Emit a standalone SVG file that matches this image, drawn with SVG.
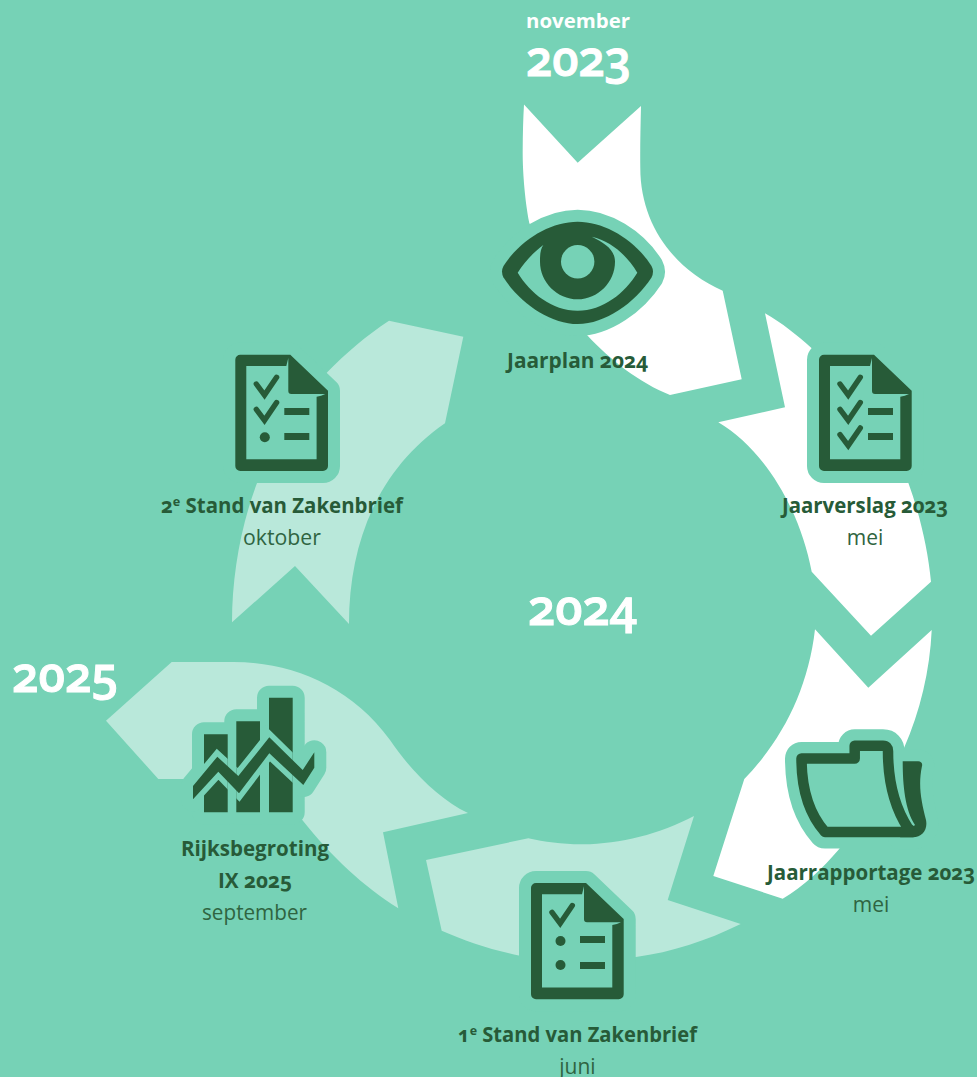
<svg xmlns="http://www.w3.org/2000/svg" xmlns:xlink="http://www.w3.org/1999/xlink" width="977" height="1077" viewBox="0 0 977 1077">
<style>
.bg{fill:#76d2b6}
.w{fill:#fff}
.l{fill:#b9e8da}
.d{fill:#275b38}
.halo{fill:#76d2b6;stroke:#76d2b6;stroke-width:24;stroke-linejoin:round}
.gap{fill:#275b38;stroke:#76d2b6;stroke-width:11;stroke-linejoin:miter;stroke-miterlimit:6}
.chk{fill:none;stroke:#275b38;stroke-width:5.4;stroke-linecap:round;stroke-linejoin:miter}
text{font-family:"Open Sans","Noto Sans","Liberation Sans",sans-serif;font-feature-settings:"onum" 1;font-variant-numeric:oldstyle-nums}
.b{font-size:21px;font-weight:700;fill:#275b38;text-anchor:middle}
.r{font-size:21px;font-weight:400;fill:#2f6441;text-anchor:middle}
.y{font-size:49px;font-weight:600;fill:#fff;stroke:#fff;stroke-width:1}
.m{font-size:20px;font-weight:700;fill:#fff}
.s{font-size:13px}
</style>
<defs>
<path id="docOuter" d="M824,354.7H874L911.7,390.7V466a5,5 0 0 1-5,5H824a5,5 0 0 1-5-5V359.7a5,5 0 0 1 5-5Z"/>
<g id="doc">
<use xlink:href="#docOuter" class="halo"/>
<use xlink:href="#docOuter" class="d"/>
<path class="bg" d="M830,366H870Q871,362 872,358V391Q872,394 875,394H909Q905,396.3 900.3,396.7V459.3H830Z"/>
</g>
<polyline id="chk" class="chk" points="840,384 848.2,395 860.3,377.3"/>
<rect id="bar" class="d" x="868" y="408" width="25" height="7"/>
<circle id="dot" class="d" cx="848.5" cy="412" r="5"/>
<clipPath id="bars"><path d="M204,734.3H227.7V812.3H204ZM236.3,721.3H260V812.3H236.3ZM269,697.7H292.7V812.3H269Z"/></clipPath>
</defs>
<rect class="bg" width="977" height="1077"/>
<g id="connectors">
<path class="w" d="M524,104.5L577.7,162.7L641,106C640.5,128 640,150 640.3,167C640,225 675,270 722.7,290.7L741.7,379.3L670,395C640,383 610,360 587,335L529.3,223C524,195 522.5,165 522.7,150Q522.8,125 524,104.5Z"/>
<path class="w" d="M765,313.3C782,323 797,335 811.7,348.3L908.3,482.7C920,515 928,550 931,581.7L871,635.7L811.7,571.7C800,510 765,450 718.3,422.3L785,407.3Z"/>
<path class="w" d="M815,629.3L868.3,687.7L931.7,630C930,670 920,712 904,748L839,849.3C822,869 803,887 782.7,898.7L713.3,876L744.3,779C782,740 808,690 815,629.3Z"/>
<path class="l" d="M441.7,930.7C465,941 492,950 520,955.7L636,957C672,952 706,941 740.7,924L667.7,900L694,816C660,834 620,844 583.3,844.3C563,844.5 545,842 528.3,838.3L426,860Z"/>
<path class="l" d="M171.7,662L106,720.7L158.3,779L183.3,779L302.3,820C330,855 365,888 398.3,908.3L383,832.3L468,813C440,800 410,770 390,740C350,685 290,662 233.3,662Z"/>
<path class="l" d="M389,320.7L463.3,336.7L445,423.3C380,468 349,540 349,624L295,566L232,622.3C232,575 241,525 257.3,482.3L326.7,372.7C346,353 367,335 389,320.7Z"/>
</g>
<g id="year-labels">
<text class="m" x="526" y="28" textLength="104" lengthAdjust="spacingAndGlyphs">november</text>
<text class="y" x="526" y="76" textLength="105" lengthAdjust="spacingAndGlyphs">2023</text>
<text class="y" x="528" y="625" textLength="109" lengthAdjust="spacingAndGlyphs">2024</text>
<text class="y" x="12" y="692" textLength="106" lengthAdjust="spacingAndGlyphs">2025</text>
</g>
<g id="node-jaarplan">
<path class="halo" d="M503.5,266C520,240 550,221.7 577.7,221.7C605,221.7 635,240 651.5,266Q654.5,271.7 651.5,277.5C635,303 605,324 577.7,324C550,324 520,303 503.5,277.5Q500.5,271.7 503.5,266Z"/>
<path class="d" d="M503.5,266C520,240 550,221.7 577.7,221.7C605,221.7 635,240 651.5,266Q654.5,271.7 651.5,277.5C635,303 605,324 577.7,324C550,324 520,303 503.5,277.5Q500.5,271.7 503.5,266Z"/>
<path class="bg" d="M517.7,272.7C525,261 534,252 543.3,245C540,250 540,256 540,261.7C540,282 557,299.3 577.7,299.3C598,299.3 615,282 615,261.7C615,250 605,243 591.7,236.7C612,241 628,257 637.3,272.7C625,293 603,310.7 577.7,310.7C552,310.7 530,293 517.7,272.7Z"/>
<circle class="bg" cx="577.7" cy="261.7" r="16.7"/>
<text class="b" x="577.5" y="368" textLength="141" lengthAdjust="spacingAndGlyphs">Jaarplan 2024</text>
</g>
<g id="node-jaarverslag">
<use xlink:href="#doc"/>
<use xlink:href="#chk"/>
<use xlink:href="#chk" y="25.3"/>
<use xlink:href="#chk" y="50.6"/>
<use xlink:href="#bar"/>
<use xlink:href="#bar" y="25"/>
<text class="b" x="865" y="513" textLength="166" lengthAdjust="spacingAndGlyphs">Jaarverslag 2023</text>
<text class="r" x="865" y="545">mei</text>
</g>
<g id="node-jaarrapportage">
<path fill="#76d2b6" stroke="#76d2b6" stroke-width="33" stroke-linejoin="round" d="M801.5,758.5H854.7V745.8H883Q888,745.8 888,751C888,780 895,808 908,828L913,832H825C810,815 801.5,790 801.5,758.5Z"/>
<path class="halo" d="M902.7,761.3H918.3Q923,762 922,766C918,785 921,800 926,820C928,830 922,837 913,837.3H900L915,825C905,810 902.7,785 902.7,761.3Z"/>
<path class="d" d="M902.7,761.3H918.3Q923,762 922,766C918,785 921,800 926,820C928,830 922,837 913,837.3H900L915,825C905,810 902.7,785 902.7,761.3Z"/>
<path fill="#76d2b6" stroke="#275b38" stroke-width="10.5" stroke-linejoin="round" d="M801.5,758.5H854.7V745.8H883Q888,745.8 888,751C888,780 895,808 908,828L913,832H825C810,815 801.5,790 801.5,758.5Z"/>
<text class="b" x="871" y="880" textLength="208" lengthAdjust="spacingAndGlyphs">Jaarrapportage 2023</text>
<text class="r" x="871" y="912">mei</text>
</g>
<g id="node-stand1">
<g transform="translate(-288 528.3)">
<use xlink:href="#doc"/>
<use xlink:href="#chk"/>
<use xlink:href="#dot" y="0.7"/>
<use xlink:href="#dot" y="24.7"/>
<use xlink:href="#bar" y="-0.3"/>
<use xlink:href="#bar" y="25.7"/>
</g>
<text class="b" x="577.5" y="1042" textLength="239" lengthAdjust="spacingAndGlyphs">1<tspan class="s" dy="-7">e</tspan><tspan dy="7"> Stand van Zakenbrief</tspan></text>
<text class="r" x="577.5" y="1074">juni</text>
</g>
<g id="node-rijksbegroting">
<path class="halo" d="M204,734.3H227.7V812.3H204ZM236.3,721.3H260V812.3H236.3ZM269,697.7H292.7V812.3H269Z"/>
<path class="halo" d="M193,786L217.3,756.7L238.3,776L269.3,737.3L302.7,770L314.3,752.3V767.7L303.3,785L269.3,753.3L239,793.3L218.3,771.7L193,799.3Z"/>
<path class="d" d="M204,734.3H227.7V812.3H204ZM236.3,721.3H260V812.3H236.3ZM269,697.7H292.7V812.3H269Z"/>
<g clip-path="url(#bars)"><path class="gap" d="M193,786L217.3,756.7L238.3,776L269.3,737.3L302.7,770L314.3,752.3V767.7L303.3,785L269.3,753.3L239,793.3L218.3,771.7L193,799.3Z"/></g>
<path class="d" d="M193,786L217.3,756.7L238.3,776L269.3,737.3L302.7,770L314.3,752.3V767.7L303.3,785L269.3,753.3L239,793.3L218.3,771.7L193,799.3Z"/>
<text class="b" x="255" y="856" textLength="148" lengthAdjust="spacingAndGlyphs">Rijksbegroting</text>
<text class="b" x="255" y="888" textLength="74" lengthAdjust="spacingAndGlyphs">IX 2025</text>
<text class="r" x="254.5" y="920" textLength="105" lengthAdjust="spacingAndGlyphs">september</text>
</g>
<g id="node-stand2">
<g transform="translate(-583.7 0)">
<use xlink:href="#doc"/>
<use xlink:href="#chk"/>
<use xlink:href="#chk" y="25.3"/>
<use xlink:href="#dot" y="25.3"/>
<use xlink:href="#bar"/>
<use xlink:href="#bar" y="25"/>
</g>
<text class="b" x="282" y="513" textLength="242" lengthAdjust="spacingAndGlyphs">2<tspan class="s" dy="-7">e</tspan><tspan dy="7"> Stand van Zakenbrief</tspan></text>
<text class="r" x="282" y="545" textLength="78" lengthAdjust="spacingAndGlyphs">oktober</text>
</g>
</svg>
